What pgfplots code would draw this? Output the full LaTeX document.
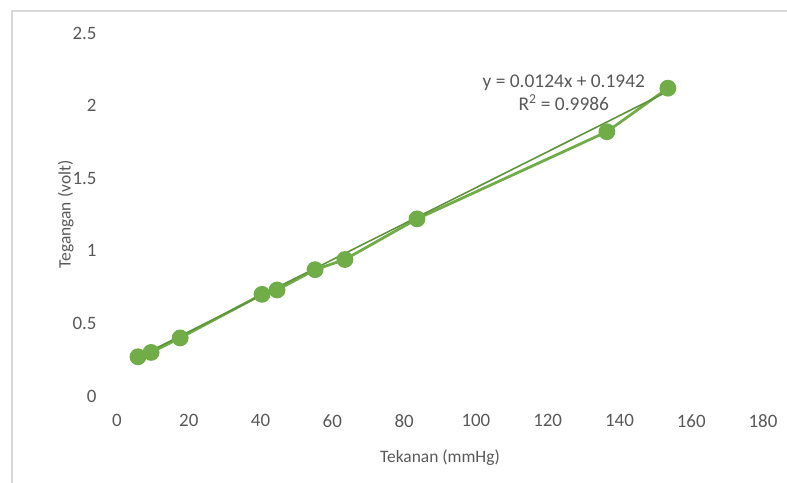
\documentclass[border=0pt]{standalone}
\usepackage{pgfplots}
\pgfplotsset{compat=1.18}
\usepackage{fontspec}
\setmainfont{Carlito}
\definecolor{exgreen}{RGB}{112,173,71}
\definecolor{txtgray}{RGB}{89,89,89}
\definecolor{framegray}{RGB}{217,217,217}
\begin{document}
\begin{tikzpicture}[x=1bp,y=1bp]
\useasboundingbox (-117bp,-87bp) rectangle (670bp,396bp);
\draw[framegray, line width=1.5bp] (-105bp,-87bp) -- (-105bp,385bp) -- (670bp,385bp);
\begin{axis}[
  scale only axis,
  width=646bp, height=363bp,
  xmin=0, xmax=180, ymin=0, ymax=2.5,
  xtick={0,20,...,180},
  ytick={0,0.5,1,1.5,2,2.5},
  yticklabels={0,0.5,1,1.5,2,2.5},
  axis line style={draw=none},
  major tick length=0pt,
  tick label style={font=\fontsize{19}{22}\selectfont, text=txtgray},
  /pgf/number format/assume math mode=true,
  xticklabel style={yshift=-15bp},
  yticklabel style={xshift=-17bp},
  xlabel={Tekanan (mmHg)},
  ylabel={Tegangan (volt)},
  xlabel style={font=\fontsize{17.5}{20}\selectfont, text=txtgray, yshift=-15bp},
  ylabel style={font=\fontsize{17.5}{20}\selectfont, text=txtgray, yshift=-8bp},
  clip=false,
]
\addplot[exgreen, line width=2.8bp, mark=*, mark size=7bp, mark options={fill=exgreen, draw=exgreen}]
coordinates {
(5.85,0.27) (9.5,0.30) (17.6,0.40) (40.4,0.70) (44.6,0.73) (55.2,0.87) (63.5,0.94) (83.6,1.22) (136.5,1.82) (153.5,2.12)
};
\addplot[exgreen!85!black, line width=1.6bp] coordinates {(5.85,0.267) (153.5,2.098)};
\node[align=center, text=txtgray, font=\fontsize{19.5}{23}\selectfont] at (axis cs:124.5,2.087) {y = 0.0124x + 0.1942\\R\textsuperscript{2} = 0.9986};
\end{axis}
\end{tikzpicture}
\end{document}
